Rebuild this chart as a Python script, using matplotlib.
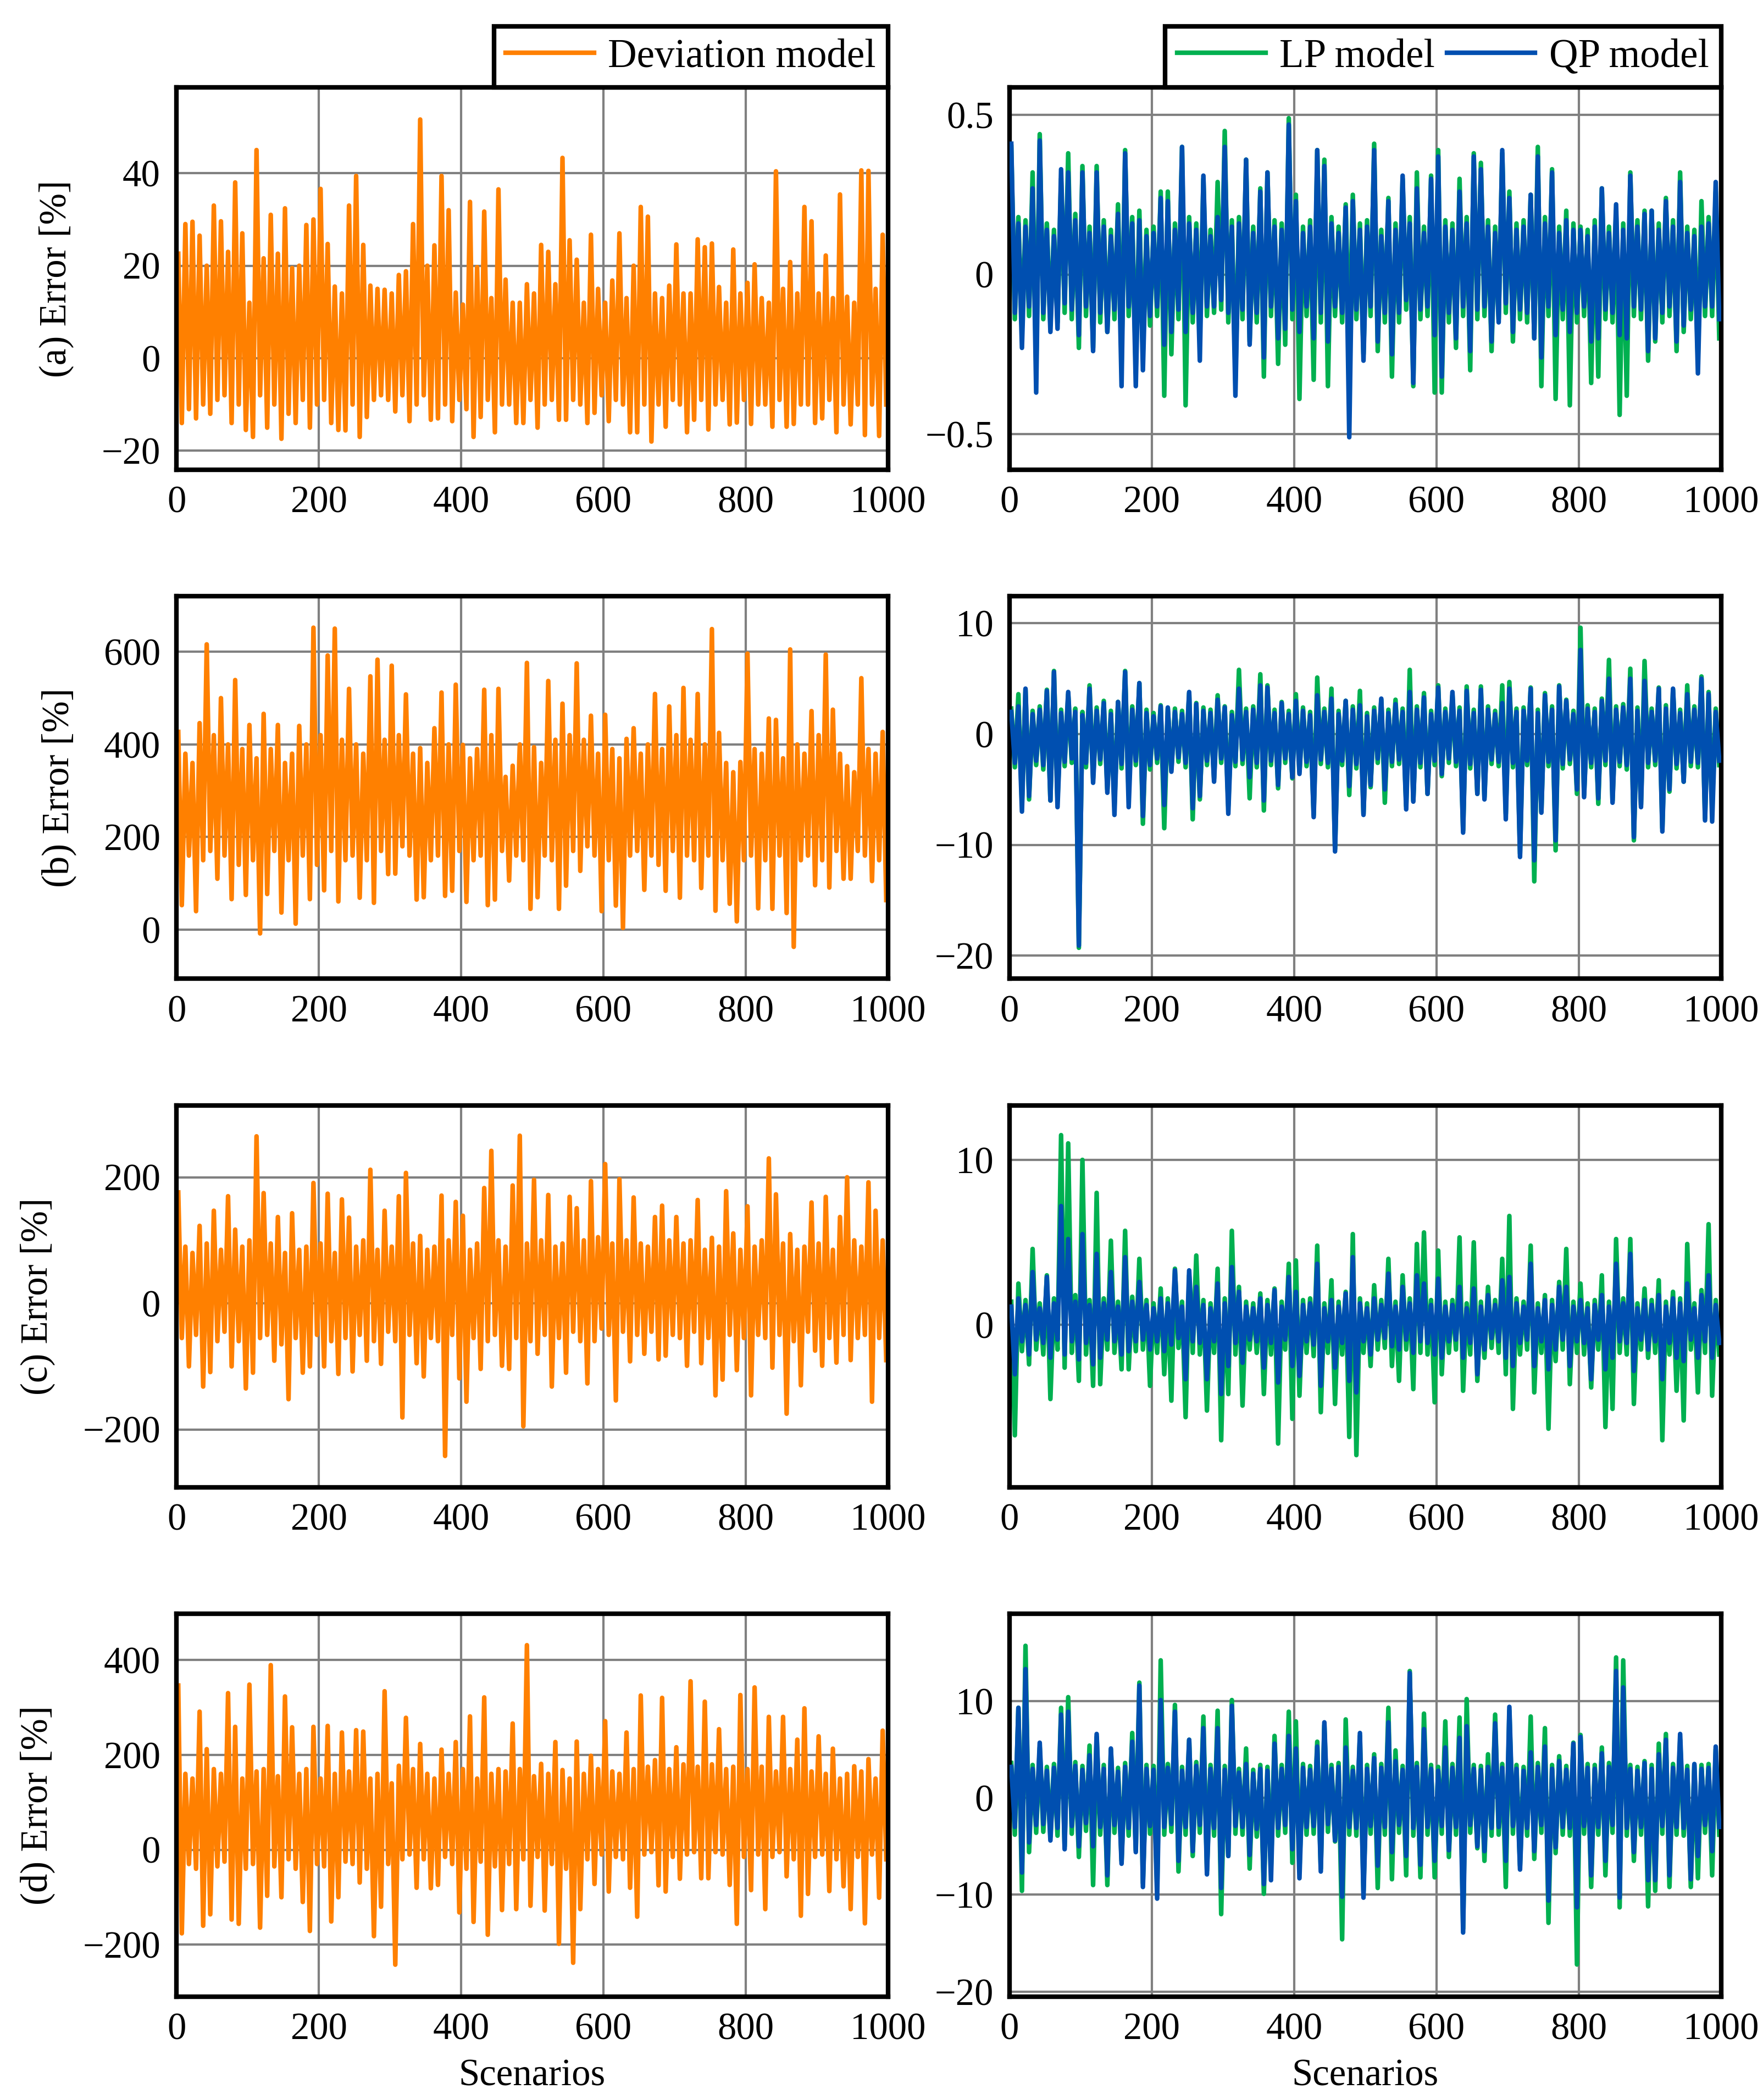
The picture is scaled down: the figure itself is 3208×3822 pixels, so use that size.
import numpy as np
import matplotlib
matplotlib.use("Agg")
import matplotlib.pyplot as plt
from matplotlib.ticker import FuncFormatter, FixedLocator

plt.rcParams['font.family'] = ['Liberation Serif', 'DejaVu Serif']
plt.rcParams['font.size'] = 16.5

#------------------------------------
# data: highest / lowest error read in each block of 10 scenarios
#------------------------------------
BLOCK = 10

# (a)
dev_a_hi = [22.6, 29, 29.5, 26.5, 20, 33, 29.6, 23, 38, 27,
            12, 45, 21.6, 31, 22.6, 32.4, 19.5, 20, 28.8, 30,
            36.6, 24.7, 15.5, 14, 33, 39.4, 24.5, 15.7, 15, 14.8,
            14, 18, 18.8, 29, 51.6, 20, 24.4, 39.4, 32, 14.2,
            11.6, 33.8, 19.7, 31.7, 13, 36.5, 17, 12, 12, 16,
            14, 24.5, 23, 16, 43.3, 25.5, 21.3, 12, 26.7, 15,
            12, 16.8, 27, 13, 20, 32.7, 30.6, 14, 13, 15.7,
            24.6, 14, 14, 25.7, 24, 24.8, 15.4, 12, 23.5, 14,
            16.3, 20.3, 13, 12, 40.4, 15, 20.8, 14, 32.7, 29.6,
            14, 22.2, 13, 35.4, 13.3, 12, 40.6, 40.5, 15, 26.7]
dev_a_lo = [-14, -11, -13, -10, -12, -9, -8, -14, -10, -15.5,
            -17, -8, -15, -10, -17.4, -12, -14, -9, -15, -10,
            -9, -14, -15.5, -15.6, -10, -17, -12.7, -9, -8, -9,
            -11.5, -8, -13.6, -10, -8, -13.3, -13, -10, -13.6, -9,
            -11, -17, -12.7, -9, -16, -10, -10, -14, -14, -9,
            -15, -10, -9, -13.3, -13.3, -9, -10, -14, -11.8, -8,
            -13.6, -9, -10, -16, -16, -10, -18, -10, -14.8, -9,
            -10, -16, -13.3, -9, -15.4, -10, -9, -14.3, -13.9, -9,
            -14.2, -10, -10, -14.8, -9, -14.8, -14.2, -10, -10, -14,
            -13, -9, -16, -10, -14.3, -10, -16.6, -10, -16.8, -10]
lp_a_hi = [.40, .18, .17, .32, .44, .16, .14, .30, .38, .19,
           .34, .15, .34, .17, .14, .22, .39, .18, .20, .14,
           .15, .26, .26, .16, .40, .18, .16, .30, .14, .29,
           .45, .17, .18, .36, .15, .27, .32, .17, .16, .49,
           .25, .15, .17, .39, .36, .18, .15, .22, .25, .16,
           .17, .41, .14, .24, .16, .30, .18, .32, .15, .31,
           .39, .17, .16, .30, .18, .38, .35, .17, .15, .38,
           .26, .16, .17, .25, .40, .18, .33, .15, .20, .16,
           .15, .14, .17, .27, .15, .20, .16, .32, .17, .20,
           .20, .16, .24, .17, .32, .15, .14, .23, .18, .26]
lp_a_lo = [-.14, -.18, -.13, -.30, -.14, -.16, -.15, -.12, -.14, -.23,
           -.13, -.23, -.15, -.18, -.14, -.28, -.13, -.30, -.25, -.16,
           -.13, -.38, -.25, -.14, -.41, -.15, -.20, -.13, -.12, -.11,
           -.15, -.33, -.14, -.21, -.15, -.32, -.13, -.28, -.22, -.14,
           -.39, -.13, -.33, -.15, -.35, -.13, -.15, -.25, -.14, -.25,
           -.13, -.24, -.15, -.32, -.15, -.11, -.35, -.14, -.13, -.37,
           -.37, -.15, -.23, -.13, -.30, -.14, -.13, -.24, -.14, -.12,
           -.21, -.14, -.15, -.20, -.35, -.13, -.39, -.14, -.41, -.15,
           -.13, -.34, -.32, -.14, -.15, -.44, -.38, -.13, -.14, -.27,
           -.21, -.15, -.13, -.24, -.18, -.14, -.27, -.13, -.13, -.20]
qp_a_hi = [.41, .16, .15, .27, .42, .14, .12, .33, .32, .17,
           .32, .13, .32, .15, .12, .19, .38, .16, .17, .12,
           .13, .24, .23, .14, .40, .16, .14, .31, .12, .18,
           .40, .15, .16, .36, .13, .26, .32, .15, .14, .47,
           .23, .13, .15, .39, .34, .16, .13, .21, .23, .14,
           .15, .39, .12, .23, .14, .31, .16, .27, .13, .30,
           .37, .15, .14, .26, .16, .37, .33, .15, .13, .39,
           .24, .14, .15, .25, .37, .16, .32, .13, .17, .14,
           .14, .12, .15, .27, .13, .22, .14, .31, .15, .19,
           .20, .14, .23, .15, .29, .13, .12, .15, .16, .29]
qp_a_lo = [-.12, -.23, -.10, -.37, -.12, -.18, -.17, -.09, -.11, -.19,
           -.10, -.24, -.12, -.18, -.11, -.35, -.10, -.35, -.30, -.13,
           -.10, -.22, -.18, -.11, -.18, -.12, -.27, -.10, -.10, -.08,
           -.12, -.38, -.11, -.22, -.12, -.26, -.10, -.20, -.17, -.11,
           -.18, -.10, -.20, -.12, -.21, -.10, -.12, -.51, -.11, -.27,
           -.10, -.21, -.12, -.25, -.12, -.08, -.34, -.11, -.10, -.19,
           -.32, -.12, -.20, -.10, -.24, -.11, -.10, -.21, -.15, -.09,
           -.18, -.11, -.12, -.20, -.26, -.10, -.19, -.11, -.18, -.12,
           -.10, -.21, -.20, -.11, -.12, -.19, -.20, -.10, -.11, -.24,
           -.20, -.12, -.10, -.21, -.16, -.11, -.31, -.10, -.10, -.14]

# (b)
dev_b_hi = [427, 380, 360, 446, 616, 420, 500, 400, 539, 390,
            442, 370, 466, 390, 442, 360, 380, 440, 400, 652,
            420, 592, 650, 410, 520, 400, 380, 547, 583, 410,
            570, 420, 508, 380, 392, 360, 435, 512, 400, 529,
            399, 370, 390, 518, 420, 520, 330, 354, 400, 576,
            394, 360, 537, 410, 488, 420, 575, 410, 462, 380,
            464, 390, 370, 412, 435, 380, 400, 509, 390, 482,
            420, 522, 410, 509, 400, 649, 425, 360, 340, 362,
            596, 390, 380, 456, 453, 370, 605, 400, 380, 472,
            420, 594, 475, 380, 353, 340, 543, 390, 380, 427]
dev_b_lo = [53, 160, 40, 150, 170, 110, 160, 66, 140, 75,
            150, -8, 77, 170, 37, 150, 13, 160, 66, 140,
            85, 170, 61, 150, 160, 69, 150, 58, 170, 120,
            121, 180, 160, 65, 70, 150, 160, 73, 84, 170,
            60, 150, 160, 53, 65, 170, 106, 160, 150, 45,
            70, 160, 150, 45, 95, 170, 127, 180, 160, 40,
            150, 52, 4, 160, 170, 86, 160, 140, 84, 170,
            69, 160, 150, 90, 160, 41, 150, 56, 18, 150,
            160, 46, 150, 45, 160, 36, -37, 150, 160, 96,
            150, 91, 170, 110, 110, 170, 160, 105, 150, 64]
lp_b_hi = [2.3, 3.6, 4.0, 2.1, 2.5, 4.0, 5.7, 2.2, 3.6, 2.3,
           2.0, 4.4, 2.4, 3.0, 2.1, 2.9, 5.7, 2.5, 4.6, 2.2,
           1.9, 2.6, 2.3, 2.3, 2.1, 3.7, 2.8, 2.4, 2.2, 3.5,
           2.5, 2.0, 5.8, 2.3, 2.5, 5.4, 4.4, 2.2, 2.9, 2.1,
           3.6, 2.4, 2.0, 5.1, 2.3, 4.1, 2.1, 3.0, 2.5, 3.9,
           1.9, 2.4, 3.1, 2.2, 3.1, 2.3, 5.8, 2.5, 3.7, 2.1,
           4.4, 2.3, 3.5, 2.4, 4.3, 2.2, 4.3, 2.5, 2.1, 4.4,
           4.7, 2.3, 2.4, 4.2, 2.2, 3.7, 2.5, 4.4, 3.1, 2.1,
           9.6, 2.6, 2.3, 3.2, 6.7, 2.5, 2.7, 5.9, 2.4, 6.6,
           2.3, 4.2, 2.6, 4.0, 2.2, 4.4, 2.5, 5.2, 3.8, 2.3]
lp_b_lo = [-3.0, -6.4, -5.9, -2.8, -3.2, -6.0, -6.0, -2.9, -2.6, -19.3,
           -3.0, -4.0, -2.7, -5.0, -6.5, -3.1, -5.5, -2.8, -8.1, -3.2,
           -2.6, -8.5, -3.2, -2.5, -3.0, -7.7, -5.9, -2.8, -4.0, -2.6,
           -6.5, -2.9, -2.7, -5.8, -3.0, -6.9, -2.8, -4.9, -2.6, -4.0,
           -3.4, -2.9, -7.3, -2.7, -3.0, -10.4, -2.8, -5.5, -3.1, -7.2,
           -4.8, -2.6, -6.2, -2.9, -2.7, -6.5, -6.0, -3.0, -5.4, -2.8,
           -3.8, -2.6, -2.9, -8.7, -3.1, -5.4, -5.7, -2.7, -2.9, -7.2,
           -3.0, -10.8, -2.8, -13.3, -7.0, -2.9, -10.5, -3.1, -2.7, -5.4,
           -5.5, -3.0, -6.3, -2.8, -6.0, -2.9, -3.2, -9.6, -6.4, -3.0,
           -2.8, -8.5, -5.2, -3.1, -4.3, -2.9, -3.0, -7.6, -6.5, -2.8]
qp_b_hi = [2.0, 2.5, 4.1, 1.8, 2.2, 3.9, 5.6, 1.9, 3.8, 2.0,
           1.7, 4.1, 2.1, 2.8, 1.8, 2.9, 5.6, 2.2, 4.6, 1.9,
           1.6, 2.5, 2.4, 2.0, 1.8, 3.8, 2.7, 2.1, 1.9, 3.1,
           2.4, 1.7, 4.1, 2.0, 2.2, 4.4, 4.2, 1.9, 2.8, 1.8,
           3.0, 2.1, 1.7, 3.5, 2.0, 3.2, 1.8, 3.0, 2.2, 2.6,
           1.6, 2.1, 3.2, 1.9, 2.7, 2.0, 3.8, 2.2, 3.3, 1.8,
           4.2, 2.0, 3.8, 2.1, 3.9, 1.9, 4.0, 2.2, 1.8, 2.8,
           4.1, 2.0, 2.1, 4.1, 1.9, 3.5, 2.2, 4.3, 3.0, 1.8,
           7.6, 2.3, 2.0, 3.0, 5.0, 2.2, 2.4, 5.0, 2.1, 4.8,
           2.0, 4.1, 2.3, 4.1, 1.9, 3.6, 2.2, 5.0, 3.6, 2.0]
qp_b_lo = [-2.6, -7.0, -5.6, -2.4, -2.8, -6.0, -6.6, -2.5, -2.2, -19.1,
           -2.6, -4.4, -2.3, -5.3, -7.3, -2.7, -6.6, -2.4, -7.4, -2.8,
           -2.2, -6.4, -3.4, -2.1, -2.6, -6.7, -5.6, -2.4, -4.3, -2.2,
           -7.2, -2.5, -2.3, -3.9, -2.6, -6.0, -2.4, -4.6, -2.2, -3.9,
           -3.6, -2.5, -7.5, -2.3, -2.6, -10.6, -2.4, -4.7, -2.7, -7.3,
           -4.6, -2.2, -5.0, -2.5, -2.3, -6.8, -6.1, -2.6, -5.4, -2.4,
           -3.6, -2.2, -2.5, -8.9, -2.7, -5.4, -5.9, -2.3, -2.5, -7.7,
           -2.6, -11.1, -2.4, -11.4, -7.1, -2.5, -9.6, -2.7, -2.3, -5.0,
           -5.7, -2.6, -5.8, -2.4, -6.2, -2.5, -2.8, -9.3, -6.6, -2.6,
           -2.4, -8.8, -5.0, -2.7, -4.3, -2.5, -2.6, -7.8, -7.9, -2.4]

# (c)
dev_c_hi = [176, 90, 80, 123, 95, 147, 85, 170, 117, 90,
            100, 265, 175, 95, 137, 80, 143, 85, 90, 191,
            95, 174, 80, 165, 136, 90, 100, 212, 85, 147,
            90, 170, 207, 95, 107, 85, 90, 171, 100, 161,
            139, 85, 95, 183, 242, 100, 90, 187, 266, 95,
            196, 100, 172, 90, 95, 169, 151, 100, 194, 105,
            221, 95, 197, 100, 168, 95, 90, 137, 155, 100,
            137, 95, 100, 164, 85, 104, 90, 178, 111, 85,
            154, 90, 100, 230, 173, 95, 110, 85, 90, 160,
            95, 169, 85, 137, 200, 100, 90, 192, 147, 100]
dev_c_lo = [-55, -100, -50, -132, -109, -60, -45, -100, -60, -135,
            -110, -55, -50, -91, -65, -152, -55, -110, -100, -50,
            -100, -60, -112, -55, -108, -50, -91, -60, -96, -45,
            -60, -181, -50, -95, -116, -55, -60, -242, -50, -119,
            -156, -55, -104, -60, -50, -99, -104, -55, -195, -60,
            -80, -50, -132, -55, -110, -45, -60, -127, -60, -40,
            -50, -154, -45, -92, -50, -80, -45, -89, -83, -50,
            -55, -99, -45, -95, -55, -146, -121, -50, -106, -55,
            -146, -50, -55, -102, -50, -175, -60, -130, -45, -75,
            -99, -55, -94, -50, -90, -55, -50, -156, -55, -90]
lp_c_hi = [1.4, 2.5, 1.5, 4.6, 1.3, 3.0, 1.6, 11.5, 11.0, 1.8,
           10.0, 1.5, 8.0, 1.6, 5.1, 1.4, 5.7, 1.7, 4.0, 1.5,
           1.3, 2.2, 1.6, 3.4, 1.4, 3.0, 4.2, 1.5, 1.3, 3.4,
           1.6, 5.7, 2.3, 1.4, 1.3, 1.9, 1.5, 2.2, 1.4, 3.7,
           3.9, 1.5, 1.6, 4.8, 1.3, 2.7, 1.4, 2.0, 5.5, 1.6,
           1.3, 2.4, 1.5, 4.0, 1.4, 3.0, 1.6, 4.9, 5.6, 1.5,
           4.5, 1.4, 1.5, 5.3, 1.3, 5.0, 1.4, 2.3, 1.5, 4.0,
           6.6, 1.6, 1.4, 4.8, 1.3, 1.8, 1.5, 2.6, 4.6, 1.4,
           2.5, 1.3, 1.5, 3.0, 1.4, 5.2, 1.6, 5.2, 1.3, 2.2,
           1.5, 2.7, 1.4, 2.0, 1.6, 4.9, 1.3, 2.1, 6.1, 1.5]
lp_c_lo = [-6.7, -1.6, -2.4, -1.5, -1.8, -4.5, -1.5, -2.6, -1.7, -3.4,
           -1.8, -3.7, -3.6, -1.5, -1.7, -2.7, -2.7, -1.6, -1.5, -3.7,
           -1.7, -3.0, -4.6, -1.4, -5.6, -1.7, -1.8, -5.2, -1.7, -7.0,
           -4.2, -1.8, -4.9, -1.5, -1.7, -4.2, -1.8, -7.2, -1.5, -5.7,
           -4.3, -1.7, -1.9, -5.3, -1.7, -4.8, -1.8, -6.8, -7.9, -1.7,
           -2.5, -1.5, -1.4, -2.5, -3.4, -1.5, -3.9, -1.7, -1.8, -4.7,
           -3.0, -1.7, -1.5, -4.0, -1.8, -3.4, -2.0, -1.4, -1.7, -3.0,
           -5.1, -1.8, -1.5, -4.1, -1.7, -6.3, -2.2, -1.5, -3.6, -1.7,
           -1.8, -3.8, -1.5, -6.2, -5.1, -1.7, -1.8, -4.8, -1.5, -2.0,
           -1.7, -7.0, -1.8, -4.0, -5.8, -1.5, -4.1, -1.7, -4.3, -1.8]
qp_c_hi = [1.1, 1.6, 1.2, 3.2, 1.0, 2.9, 1.3, 7.2, 5.2, 1.4,
           5.5, 1.2, 4.3, 1.3, 3.2, 1.1, 4.1, 1.4, 2.6, 1.2,
           1.0, 1.6, 1.3, 3.3, 1.1, 3.3, 2.3, 1.2, 1.0, 2.5,
           1.3, 3.5, 2.0, 1.1, 1.0, 1.6, 1.2, 2.1, 1.1, 2.9,
           2.0, 1.2, 1.3, 3.7, 1.0, 1.5, 1.1, 1.9, 4.1, 1.3,
           1.0, 1.6, 1.2, 3.1, 1.1, 2.3, 1.3, 3.0, 2.5, 1.2,
           2.8, 1.1, 1.2, 2.3, 1.0, 2.2, 1.1, 1.8, 1.2, 2.7,
           2.9, 1.3, 1.1, 3.7, 1.0, 1.5, 1.2, 2.3, 2.3, 1.1,
           1.5, 1.0, 1.2, 1.8, 1.1, 3.7, 1.3, 4.3, 1.0, 1.5,
           1.2, 1.8, 1.1, 1.6, 1.3, 2.5, 1.0, 1.8, 3.0, 1.2]
qp_c_lo = [-3.0, -1.0, -1.8, -0.9, -1.1, -2.0, -0.9, -1.8, -1.0, -2.1,
           -1.1, -2.4, -2.0, -0.9, -1.0, -1.8, -1.6, -1.0, -0.9, -1.5,
           -1.0, -1.6, -1.2, -0.8, -3.3, -1.0, -1.1, -3.3, -1.0, -4.2,
           -2.5, -1.1, -2.3, -0.9, -1.0, -2.6, -1.1, -3.5, -0.9, -2.5,
           -3.1, -1.0, -1.2, -3.7, -1.0, -2.6, -1.1, -3.4, -4.1, -1.0,
           -1.8, -0.9, -0.8, -1.3, -1.5, -0.9, -1.7, -1.0, -1.1, -1.8,
           -2.0, -1.0, -0.9, -2.0, -1.1, -3.0, -1.5, -0.8, -1.0, -2.0,
           -2.5, -1.1, -0.9, -2.5, -1.0, -2.7, -1.5, -0.9, -2.5, -1.0,
           -1.1, -3.3, -0.9, -2.7, -2.0, -1.0, -1.1, -2.8, -0.9, -1.5,
           -1.0, -3.3, -1.1, -2.0, -2.2, -0.9, -2.0, -1.0, -2.0, -1.1]

# (d)
dev_d_hi = [346, 160, 150, 291, 212, 170, 160, 330, 259, 150,
            348, 165, 170, 389, 155, 323, 258, 160, 170, 259,
            150, 261, 160, 247, 165, 252, 249, 150, 160, 334,
            140, 177, 278, 170, 223, 160, 150, 211, 160, 227,
            170, 281, 150, 321, 160, 170, 165, 266, 170, 431,
            155, 181, 160, 227, 168, 150, 228, 160, 198, 170,
            271, 165, 160, 247, 170, 325, 175, 189, 320, 170,
            216, 180, 355, 175, 312, 180, 254, 170, 175, 326,
            170, 342, 175, 280, 165, 280, 170, 232, 298, 165,
            239, 160, 213, 150, 160, 176, 165, 191, 150, 251]
dev_d_lo = [-176, -30, -40, -160, -136, -35, -25, -147, -156, -40,
            -30, -164, -97, -35, -100, -20, -40, -110, -171, -30,
            -35, -151, -100, -25, -30, -69, -40, -182, -120, -30,
            -242, -20, -10, -80, -20, -81, -74, -15, -30, -132,
            -40, -152, -25, -179, -35, -127, -30, -125, -20, -118,
            -15, -128, -30, -198, -40, -238, -125, -20, -72, -10,
            -88, -15, -20, -80, -141, -10, -5, -75, -88, -15,
            -61, -10, -5, -60, -60, -5, -10, -74, -156, -15,
            -85, -10, -125, -15, -5, -56, -20, -139, -93, -15,
            -10, -87, -20, -77, -125, -15, -155, -10, -101, -20]
lp_d_hi = [3.6, 9.3, 15.7, 3.4, 5.2, 3.2, 3.5, 9.3, 10.4, 3.7,
           3.3, 5.4, 6.3, 3.4, 5.0, 3.1, 3.6, 6.7, 11.9, 3.4,
           3.3, 14.2, 3.5, 9.6, 3.2, 6.0, 3.7, 8.4, 3.4, 9.0,
           3.3, 10.1, 3.0, 5.1, 2.9, 3.4, 3.2, 6.4, 3.4, 8.9,
           7.9, 3.5, 3.3, 5.8, 7.5, 3.4, 3.6, 8.1, 3.2, 6.4,
           3.4, 4.5, 3.5, 9.3, 4.9, 3.3, 13.1, 3.6, 8.7, 3.4,
           3.2, 7.9, 3.5, 8.3, 10.2, 3.4, 3.3, 4.5, 8.6, 3.5,
           9.0, 3.4, 3.2, 8.4, 3.6, 7.2, 3.4, 4.3, 3.3, 5.7,
           6.5, 3.5, 3.4, 5.2, 3.6, 14.5, 14.2, 3.4, 3.2, 3.8,
           3.4, 5.6, 6.6, 3.5, 6.0, 3.3, 3.4, 3.4, 3.5, 5.0]
lp_d_lo = [-3.8, -9.6, -5.6, -3.6, -3.5, -4.0, -3.9, -5.0, -3.7, -6.1,
           -3.4, -9.0, -3.8, -9.0, -3.6, -6.5, -3.9, -5.4, -8.8, -3.7,
           -9.5, -3.8, -3.5, -7.6, -3.8, -6.0, -3.6, -7.5, -3.9, -12.0,
           -6.0, -3.7, -3.8, -7.3, -4.0, -9.9, -7.4, -3.9, -3.6, -6.7,
           -7.4, -3.8, -3.7, -7.3, -3.5, -4.5, -14.6, -3.8, -3.9, -9.6,
           -3.7, -9.3, -3.8, -8.4, -3.6, -8.0, -3.9, -8.2, -3.8, -8.2,
           -3.7, -6.1, -3.8, -13.5, -3.6, -5.2, -6.5, -3.9, -3.8, -9.2,
           -3.7, -7.0, -3.9, -6.3, -3.6, -12.9, -5.7, -3.8, -3.9, -17.2,
           -3.7, -9.2, -3.8, -8.0, -3.6, -11.3, -3.9, -6.5, -3.8, -11.2,
           -9.6, -3.7, -9.2, -3.8, -3.9, -9.2, -8.3, -3.6, -8.0, -3.8]
qp_d_hi = [3.2, 9.3, 13.3, 3.0, 5.7, 2.8, 3.1, 8.6, 8.9, 3.3,
           2.9, 4.4, 6.6, 3.0, 5.1, 2.7, 3.2, 5.8, 11.6, 3.0,
           2.9, 10.1, 3.1, 8.9, 2.8, 6.0, 3.3, 7.2, 3.0, 7.2,
           2.9, 9.5, 2.6, 3.5, 2.5, 3.0, 2.8, 5.6, 3.0, 6.4,
           5.1, 3.1, 2.9, 5.3, 7.8, 3.0, 3.2, 5.2, 2.8, 6.7,
           3.0, 4.1, 3.1, 7.8, 3.8, 2.9, 12.9, 3.2, 7.1, 3.0,
           2.8, 5.2, 3.1, 6.2, 7.4, 3.0, 2.9, 3.2, 7.7, 3.1,
           9.4, 3.0, 2.8, 4.7, 3.2, 5.3, 3.0, 3.8, 2.9, 5.6,
           6.3, 3.1, 3.0, 4.6, 3.2, 13.1, 11.4, 3.0, 2.8, 3.6,
           3.0, 4.5, 6.0, 3.1, 6.6, 2.9, 3.5, 3.0, 3.1, 5.3]
qp_d_lo = [-3.0, -7.7, -4.6, -2.8, -2.7, -4.4, -3.1, -5.3, -2.9, -5.0,
           -2.6, -5.0, -3.0, -8.0, -2.8, -6.8, -3.1, -5.6, -9.2, -2.9,
           -10.4, -3.0, -2.7, -6.5, -3.0, -5.5, -2.8, -7.9, -3.1, -9.3,
           -6.0, -2.9, -3.0, -5.9, -3.2, -8.9, -8.5, -3.1, -2.8, -5.3,
           -8.3, -3.0, -2.9, -7.6, -2.7, -4.4, -10.2, -3.0, -3.1, -10.3,
           -2.9, -7.0, -3.0, -5.6, -2.8, -6.0, -3.1, -6.9, -3.0, -6.5,
           -2.9, -5.4, -3.0, -13.9, -2.8, -5.0, -5.5, -3.1, -3.0, -6.5,
           -2.9, -7.4, -3.1, -5.5, -2.8, -10.6, -5.1, -3.0, -3.1, -11.3,
           -2.9, -8.0, -3.0, -6.5, -2.8, -10.3, -3.1, -5.6, -3.0, -8.5,
           -8.5, -2.9, -8.0, -3.0, -3.1, -8.4, -6.0, -2.8, -5.5, -3.0]

row_labels = ['(a) Error [%]', '(b) Error [%]', '(c) Error [%]', '(d) Error [%]']
x_ticks = [0, 200, 400, 600, 800, 1000]

# y range and ticks of each panel (left, right)
ylims_left = [(-24.1, 58.5), (-106, 720), (-292, 314), (-309, 497)]
ylims_right = [(-0.612, 0.586), (-22.1, 12.45), (-9.86, 13.3), (-20.5, 19.0)]
yticks_left = [[-20, 0, 20, 40], [0, 200, 400, 600], [-200, 0, 200], [-200, 0, 200, 400]]
yticks_right = [[-0.5, 0, 0.5], [-20, -10, 0, 10], [0, 10], [-20, -10, 0, 10]]

dev_series = [(dev_a_hi, dev_a_lo), (dev_b_hi, dev_b_lo), (dev_c_hi, dev_c_lo), (dev_d_hi, dev_d_lo)]
lp_series = [(lp_a_hi, lp_a_lo), (lp_b_hi, lp_b_lo), (lp_c_hi, lp_c_lo), (lp_d_hi, lp_d_lo)]
qp_series = [(qp_a_hi, qp_a_lo), (qp_b_hi, qp_b_lo), (qp_c_hi, qp_c_lo), (qp_d_hi, qp_d_lo)]

COL_DEV = '#ff8000'
COL_LP = '#00b050'
COL_QP = '#004fb0'
LW = 2.0


def zigzag(hi, lo):
    # peak then trough inside every block of scenarios
    start = np.arange(len(hi)) * BLOCK
    x = np.column_stack([start + BLOCK * 0.25, start + BLOCK * 0.75]).ravel()
    y = np.column_stack([hi, lo]).ravel()
    return x, y


def fmt(v, _):
    return f'{v:g}'.replace('-', '\u2212')


def style_axes(ax, ylim, yticks):
    ax.set_xlim(0, 1000)
    ax.set_ylim(*ylim)
    ax.xaxis.set_major_locator(FixedLocator(x_ticks))
    ax.yaxis.set_major_locator(FixedLocator(yticks))
    ax.yaxis.set_major_formatter(FuncFormatter(fmt))
    ax.xaxis.set_major_formatter(FuncFormatter(fmt))
    ax.grid(True, color='#808080', linewidth=1.0, zorder=0)
    ax.set_axisbelow(True)
    ax.tick_params(length=0, pad=7, labelsize=16.5)
    for sp in ax.spines.values():
        sp.set_linewidth(2.0)
        sp.set_color('black')


fig = plt.figure(figsize=(3208 / 300, 3822 / 300), dpi=300)

rows = [(0.7763, 0.1820), (0.5339, 0.1822), (0.2917, 0.1819), (0.0493, 0.1822)]
left_x, right_x, width = 0.1001, 0.5726, 0.4036

axes_left = []
axes_right = []
for i, (bottom, height) in enumerate(rows):
    axl = fig.add_axes([left_x, bottom, width, height])
    axr = fig.add_axes([right_x, bottom, width, height])

    x, y = zigzag(*dev_series[i])
    axl.plot(x, y, color=COL_DEV, linewidth=LW, label='Deviation model', zorder=2)

    x, y = zigzag(*lp_series[i])
    axr.plot(x, y, color=COL_LP, linewidth=LW, label='LP model', zorder=2)
    x, y = zigzag(*qp_series[i])
    axr.plot(x, y, color=COL_QP, linewidth=LW, label='QP model', zorder=3)

    style_axes(axl, ylims_left[i], yticks_left[i])
    style_axes(axr, ylims_right[i], yticks_right[i])
    axl.set_ylabel(row_labels[i], labelpad=12)

    axes_left.append(axl)
    axes_right.append(axr)

axes_left[-1].set_xlabel('Scenarios', labelpad=5)
axes_right[-1].set_xlabel('Scenarios', labelpad=5)

# legends on top of first row
leg_kw = dict(loc='lower right', bbox_to_anchor=(1.0, 1.0), borderaxespad=0.0,
              fancybox=False, edgecolor='black', framealpha=1.0,
              handlelength=2.2, handletextpad=0.35, borderpad=0.3, fontsize=17.5)
leg1 = axes_left[0].legend(**leg_kw)
leg2 = axes_right[0].legend(ncol=2, columnspacing=0.3, **leg_kw)
for leg in (leg1, leg2):
    leg.get_frame().set_linewidth(2.0)
    for h in leg.get_lines():
        h.set_linewidth(2.0)

fig.savefig('out.png', dpi=300)
